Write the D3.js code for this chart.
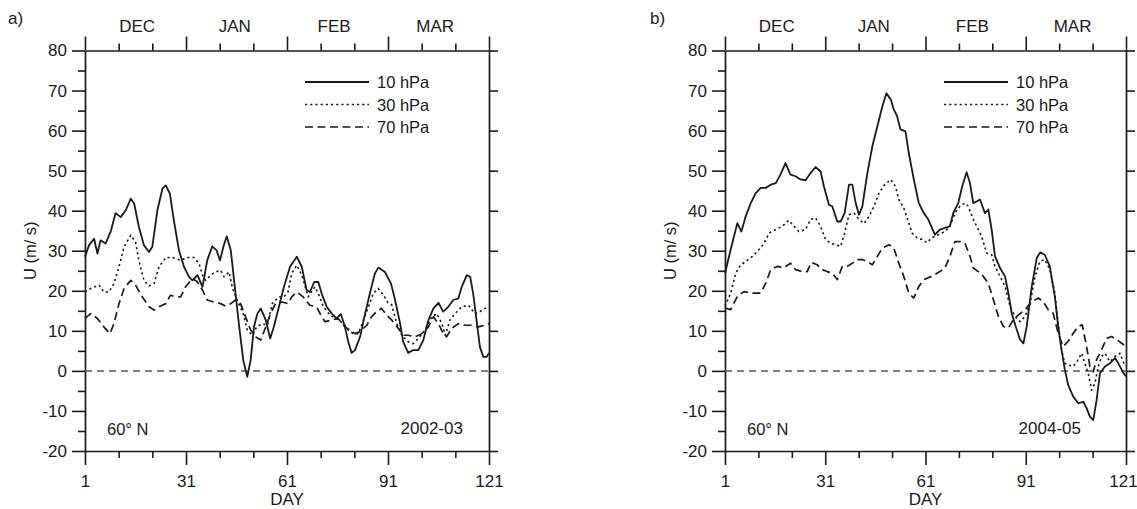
<!DOCTYPE html>
<html><head><meta charset="utf-8">
<script src="https://cdn.jsdelivr.net/npm/d3@7"></script>
<style>
body{margin:0;background:#fff}
text{font-family:Arial,"Liberation Sans",sans-serif;fill:#1a1a1a}
</style>
</head><body>
<svg id="c" width="1137" height="509"></svg>
<script>
// ---------- data ----------
const xMajorTicks = [1, 31, 61, 91, 121];
const xMinorTicks = [11, 21, 41, 51, 71, 81, 101, 111];
const yTicks = [-20, -10, 0, 10, 20, 30, 40, 50, 60, 70, 80];
const yMinorTicks = [-15, -5, 5, 15, 25, 35, 45, 55, 65, 75];
const months = ["DEC", "JAN", "FEB", "MAR"];
const monthDays = [16.5, 45.5, 75, 105];
const levels = ["10 hPa", "30 hPa", "70 hPa"];

// panel a) 2002-03  [day, U m/s]
const a10 = [[1,28.5],[2.2,31.4],[3.7,33],[4.7,29.3],[5.6,32.6],[7.1,31.8],[8.6,34.7],[10.1,39.4],[11.6,38.4],[13.1,40.1],[14.6,43],[15.6,41.8],[17,36],[18.5,31.4],[20,29.7],[21,31],[22.5,40.1],[24,45.5],[25,46.3],[26.2,44.3],[27.4,37.6],[28.9,30.1],[30.4,26],[31.9,23.5],[32.9,22.6],[34.4,23.9],[35.9,21],[37.3,27.6],[38.8,31.1],[40.1,30.1],[41.1,27.6],[42.1,31],[43.1,33.6],[44.3,30.1],[45.5,21],[46.7,11.8],[48,2.7],[49.2,-1.5],[50.2,2.7],[51.2,11],[52.2,14.3],[53.2,15.6],[54.7,12.7],[56,8.1],[57.1,11],[58.6,16],[60.1,21],[61.9,26],[63.9,28.5],[65.4,26],[66.8,20.2],[67.8,19.7],[69.1,22.2],[70.3,22.2],[71.3,19.3],[72.8,16],[74.3,14.3],[75.7,13.1],[77,14.2],[78.2,11],[79.2,7.3],[80.2,4.5],[81.2,5.2],[82.7,8.5],[84.2,14.3],[85.6,19.3],[87.1,24.3],[88.1,25.8],[90.1,24.7],[91.9,21.8],[93.1,17.7],[94.6,11.8],[95.5,7.3],[97,4.5],[98.5,5.2],[100,5.2],[101.5,7.7],[103,12.7],[104.5,15.6],[106,17],[107.4,14.8],[108.9,16],[110.4,17.7],[111.9,18.1],[112.9,21],[114.4,23.9],[115.4,23.5],[116.3,19.3],[117.3,12.7],[118.3,6],[119.3,3.5],[120.3,3.5],[121,4.5]];
const a30 = [[1,19.7],[2.7,20.6],[5.2,21.4],[6.6,19.7],[8.1,19.7],[9.6,21.8],[11.1,26],[12.6,31],[14.6,33.9],[16,32.2],[17,27.6],[18.5,22.6],[20,21.2],[21.5,21.8],[23,26],[25,28.3],[27,28.3],[29.4,27.6],[31.4,28.3],[33.4,28.3],[34.9,26.8],[35.9,23.9],[36.8,22.6],[38.3,23.9],[39.8,24.7],[41.3,25.1],[42.3,23.5],[43.8,24.7],[44.8,20.6],[46.2,17.7],[48,14.3],[49.2,10.2],[50.7,8.9],[52,11],[53.7,11.8],[55.2,11.4],[56.6,16.8],[58.6,18.5],[60.1,18.5],[61.3,19.7],[62.4,24.3],[63.9,26.4],[65.4,23.9],[67.3,18.5],[69.3,21],[70.3,19.3],[71.8,16],[73.8,13.9],[75.7,13.1],[77.7,11.8],[79.2,10.2],[80.7,9.3],[82.2,9.3],[83.7,12.7],[85.2,16],[86.6,19.3],[88.1,20.6],[89.6,19],[91,17],[92.1,16.5],[93.6,11.8],[95.1,8.9],[97,7.3],[98.5,6.8],[100,8.1],[102,10.2],[104,13.5],[105.5,14.3],[107,11.8],[108,8.9],[109.4,12.7],[110.9,14.3],[112.9,16],[114.9,16.4],[116.8,14.3],[118.3,14.8],[119.8,15.6],[121,16]];
const a70 = [[1,13.1],[2.7,14.3],[4.7,13.1],[6.6,11],[8.4,9.3],[9.6,11.8],[11.1,16.8],[12.6,20.6],[14.6,22.6],[16,21.4],[18,18.5],[20,16],[21.5,15.2],[23,16],[25,16.8],[26.4,18.9],[27.9,18.5],[29.4,18.5],[30.9,21],[32.9,23.1],[34.4,22.2],[35.9,20.2],[37.3,17.7],[39.3,17.2],[41.3,16.8],[42.8,16.2],[44.3,16.8],[45.7,17.7],[47.2,16.8],[48.7,13.5],[50.2,10.2],[51.7,8.5],[53.2,7.7],[54.7,11],[56.1,14.3],[57.6,16.8],[59.6,17.2],[61.3,16.8],[62.4,18.5],[63.9,19.7],[65.8,18.5],[67.8,16.4],[69.8,16],[71.3,13.5],[72.3,12.3],[74.3,12.7],[76.2,13.1],[78.2,11],[79.7,10.2],[81.2,9.3],[82.7,9.8],[84.7,11.4],[86.1,13.5],[87.6,14.8],[89.1,15.6],[90.6,13.9],[92.1,12.7],[94.1,10.6],[95.5,8.9],[97,8.9],[99,8.5],[101,9.3],[103,11],[104.5,13.5],[106,11.8],[107.4,9.3],[108.4,8.5],[109.9,10.6],[111.9,11.8],[113.9,11.4],[115.8,11.4],[117.8,11],[119.8,11.4],[121,11.8]];

// panel b) 2004-05
const b10 = [[1,24.4],[2.7,30.3],[4.7,36.9],[5.9,34.8],[7.2,38.6],[8.7,41.9],[10.2,44.4],[11.7,45.7],[13.2,45.7],[14.7,46.5],[16.2,46.9],[17.6,49],[19.1,51.9],[20.6,49],[22.1,48.6],[23.6,47.8],[25.1,47.6],[26.6,49.4],[28.1,50.9],[29.6,49.8],[30.6,46.1],[32.1,41.5],[33.1,41.1],[34.6,37.3],[35.6,37.3],[36.8,39.4],[38.1,46.5],[39.1,46.5],[40.1,41.9],[41.1,39],[42.1,41.1],[43.6,49.4],[45.1,56.1],[46.6,61.1],[48.1,66.1],[49.3,69.3],[50.6,67.8],[51.5,65.3],[52.5,63.6],[53.5,60.3],[55,59.8],[56,54.4],[57.5,47.8],[59,41.9],[60.5,39.4],[61.7,38],[62.3,36.9],[63.8,34],[65.3,35.3],[66.8,35.7],[68.3,36.1],[69.3,39.4],[70.8,41.9],[72,46.1],[73.3,49.6],[74.3,46.9],[75.3,41.9],[76.3,42.3],[77.3,42.8],[78.8,39.4],[79.8,40.3],[80.8,35.3],[81.8,28.6],[83.3,25.7],[84.8,23.6],[85.8,19.4],[86.8,14.4],[88,11.1],[89.3,7.8],[90.3,6.9],[91.3,11.1],[92.8,21.1],[94.3,28.2],[95.3,29.6],[96.7,29],[98.2,26.1],[99.7,18.6],[100.7,11.1],[101.7,5.3],[102.7,0.3],[103.7,-3.5],[105.2,-6.4],[106.7,-8.1],[108.2,-7.7],[109.2,-9.3],[110.2,-11.4],[111.2,-12.3],[112.2,-7.3],[113.2,-0.6],[114.7,1.1],[116.2,1.9],[117.7,3.2],[118.7,1.9],[120,-0.2],[121,-1.4]];
const b30 = [[1,16.1],[2.7,19.4],[4.2,24.4],[5.7,26.5],[7.2,27.3],[9.2,28.6],[11.2,30.3],[12.7,31.9],[14.2,34.4],[16.2,35.3],[18.1,36.1],[20.1,37.6],[21.6,36.1],[23.1,34.8],[25.1,35.3],[26.6,37.8],[28.1,38.2],[29.6,36.1],[31.1,32.8],[32.6,31.9],[34.1,31.5],[35.6,31.1],[36.8,34.4],[38.1,39],[39.6,39.4],[41.1,37.8],[42.6,36.8],[44.1,38.6],[45.6,41.1],[47.1,44.4],[48.6,46.3],[50.6,47.8],[52,46.1],[53,42.8],[54.5,40.7],[56,36.9],[57,34.4],[58.5,33.2],[60,32.8],[61.5,32],[62.8,33.2],[64.8,34],[66.8,34.8],[68.3,36.1],[69.8,39.4],[71.3,41.1],[72.8,41.9],[73.8,41.1],[75.3,37.8],[76.8,35.3],[77.8,33.6],[79.3,29.4],[80.8,29],[81.8,26.1],[83.3,23.6],[84.8,21.1],[86.3,16.1],[87.8,13.6],[89.3,12.3],[90.8,13.6],[92.3,16.9],[93.8,23.6],[95.2,27.3],[96.7,27.8],[98.2,25.3],[99.7,19.4],[100.7,11.9],[101.7,5.3],[102.7,1.9],[103.7,1.5],[105.2,1.1],[106.7,2.8],[107.7,4.4],[108.7,1.9],[109.7,-0.6],[110.7,-4.8],[111.7,-3.1],[112.7,1.1],[113.7,3.6],[114.7,4.4],[116.2,2.3],[117.7,3.6],[119.2,4.4],[120.7,1.1]];
const b70 = [[1,15.7],[2.7,15.3],[4.7,18.6],[6.7,19.8],[8.7,19.4],[11.7,19.4],[13.2,21.9],[14.7,25.3],[16.7,26.1],[18.6,25.7],[20.6,26.9],[22.1,25.3],[24.1,24.8],[25.6,24.8],[26.8,27.1],[28.6,26.5],[30.1,25.3],[31.6,24.8],[33.1,24.4],[34.6,22.8],[36.1,26.1],[37.6,26.1],[39.1,26.9],[40.6,27.8],[42.1,27.8],[43.6,27.3],[45.1,26.5],[46.6,28.6],[48.1,30.7],[50.1,31.5],[51.5,30.7],[53,26.9],[54.5,23.6],[56,19.4],[57.5,18.2],[59,21.1],[60.5,22.8],[62.8,23.6],[65.3,24.8],[66.8,25.7],[68.3,28.6],[69.8,32.3],[71.3,32.3],[72.8,31.9],[74.3,28.6],[75.3,25.7],[76.8,24.8],[78.3,23.6],[79.8,21.9],[81.3,17.8],[82.8,13.6],[84.3,11.1],[85.8,10.7],[87.3,12.8],[88.8,14],[90.8,15.3],[92.8,17.3],[94.8,18.2],[96.2,17.3],[97.7,15.3],[99.2,14.4],[100.7,9.4],[102.2,6.1],[103.7,7.4],[105.2,9.4],[106.7,11.1],[107.9,11.5],[109.2,6.1],[110.2,1.1],[111.2,-0.2],[112.2,2.8],[113.7,5.3],[115.2,8.1],[116.7,8.6],[118.2,7.8],[119.7,6.9],[121,6.1]];

// ---------- drawing ----------
const svg = d3.select("#c");
const styles = [
  {w: 1.8, dash: null},
  {w: 1.6, dash: "2.2,3"},
  {w: 1.7, dash: "8,4.5"}
];
const panels = [
  {label: "a)", labelX: 8, left: 85, right: 489, series: [a10, a30, a70], season: "2002-03", seasonX: 463, legX: 305},
  {label: "b)", labelX: 650, left: 725, right: 1126, series: [b10, b30, b70], season: "2004-05", seasonX: 1081, legX: 944}
];
const plotTop = 50.5, plotBottom = 451;
const ink = "#1a1a1a";
const fmt = d => String(d);

panels.forEach(p => {
  const x = d3.scaleLinear().domain([1, 121]).range([p.left, p.right]);
  const y = d3.scaleLinear().domain([-20, 80]).range([plotBottom, plotTop]);
  const g = svg.append("g");

  function ax(axis, tx, ty, keepDomain) {
    const a = g.append("g").attr("transform", `translate(${tx},${ty})`).call(axis);
    a.selectAll("line").attr("stroke", ink).attr("stroke-width", 1.6);
    a.selectAll("path").attr("stroke", ink).attr("stroke-width", 1.7);
    if (!keepDomain) a.select(".domain").remove();
    a.selectAll("text").attr("font-size", 17).attr("fill", ink)
      .style("font-family", 'Arial,"Liberation Sans",sans-serif');
    return a;
  }
  // top axis
  ax(d3.axisTop(x).tickValues(xMinorTicks).tickSize(7).tickSizeOuter(0).tickFormat(""), 0, plotTop, true);
  ax(d3.axisTop(x).tickValues(xMajorTicks).tickSize(14).tickFormat(""), 0, plotTop, false);
  // bottom axis
  ax(d3.axisBottom(x).tickValues(xMinorTicks).tickSize(7).tickSizeOuter(0).tickFormat(""), 0, plotBottom, true);
  const bx = ax(d3.axisBottom(x).tickValues(xMajorTicks).tickSize(14).tickPadding(10).tickFormat(fmt), 0, plotBottom, false);
  // keep the last day label inside the window
  bx.selectAll(".tick text").filter(d => d === 121 && p.right + 14 > 1137).attr("dx", -3);
  // left axis
  ax(d3.axisLeft(y).tickValues(yMinorTicks).tickSize(7).tickSizeOuter(0).tickFormat(""), p.left, 0, true);
  ax(d3.axisLeft(y).tickValues(yTicks).tickSize(13).tickPadding(5).tickFormat(fmt), p.left, 0, false);
  // right axis
  ax(d3.axisRight(y).tickValues(yTicks).tickSize(9).tickSizeOuter(0).tickFormat(""), p.right, 0, true);

  // month labels
  g.selectAll(".month").data(months).enter().append("text")
    .attr("x", (d, i) => x(monthDays[i])).attr("y", 32)
    .attr("text-anchor", "middle").attr("font-size", 17).text(d => d);

  // zero line
  g.append("line").attr("x1", x(1)).attr("x2", x(121)).attr("y1", y(0)).attr("y2", y(0))
    .attr("stroke", "#555").attr("stroke-width", 1.5).attr("stroke-dasharray", "7,5");

  // series
  const line = d3.line().x(d => x(d[0])).y(d => y(d[1]));
  p.series.forEach((s, i) => {
    g.append("path").datum(s).attr("d", line).attr("fill", "none")
      .attr("stroke", ink).attr("stroke-width", styles[i].w)
      .attr("stroke-dasharray", styles[i].dash).attr("stroke-linejoin", "round");
  });

  // legend
  levels.forEach((lv, i) => {
    const ly = 82 + i * 22.5;
    g.append("line").attr("x1", p.legX).attr("x2", p.legX + 64).attr("y1", ly).attr("y2", ly)
      .attr("stroke", ink).attr("stroke-width", styles[i].w).attr("stroke-dasharray", styles[i].dash);
    g.append("text").attr("x", p.legX + 72).attr("y", ly + 6).attr("font-size", 16.5).text(lv);
  });

  // annotations
  g.append("text").attr("x", p.labelX).attr("y", 24).attr("font-size", 17).text(p.label);
  g.append("text").attr("x", p.left + 22).attr("y", 435).attr("font-size", 16.5).text("60° N");
  g.append("text").attr("x", p.seasonX).attr("y", 434).attr("text-anchor", "end").attr("font-size", 17).text(p.season);
  g.append("text").attr("x", x(61)).attr("y", 505).attr("text-anchor", "middle").attr("font-size", 17).text("DAY");
  g.append("text").attr("transform", `translate(${p.left - 49},${(plotTop + plotBottom) / 2}) rotate(-90)`)
    .attr("text-anchor", "middle").attr("font-size", 16.5).text("U (m/ s)");
});
</script>
</body></html>
